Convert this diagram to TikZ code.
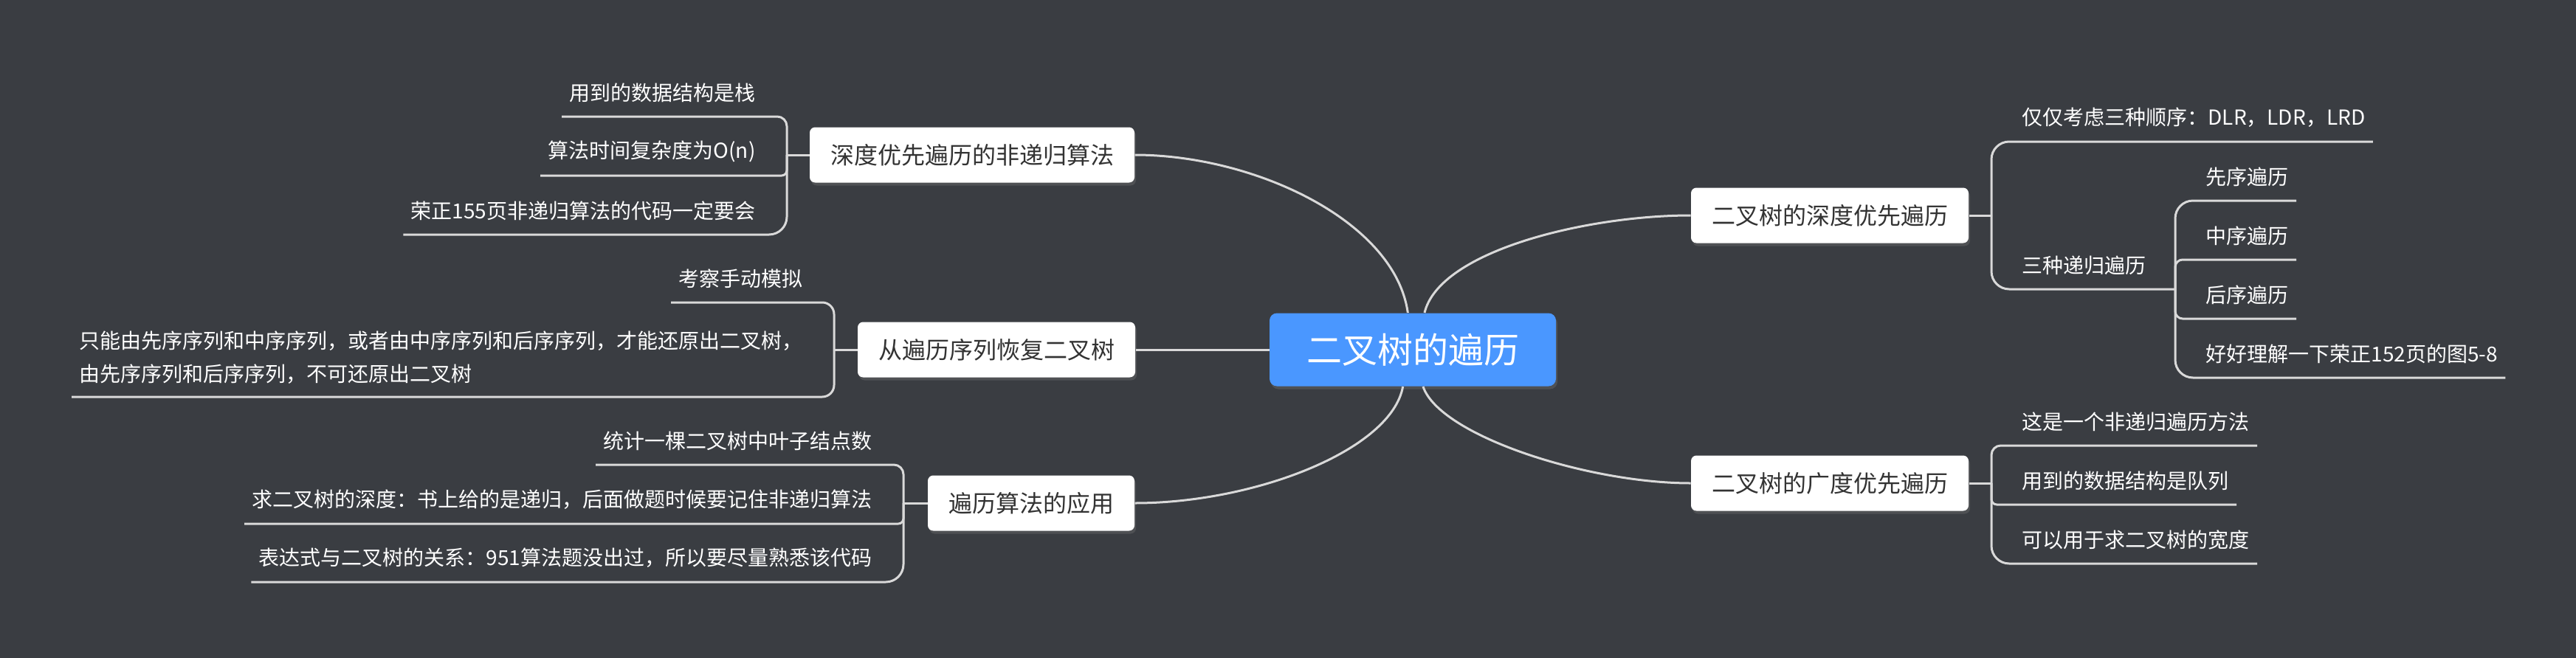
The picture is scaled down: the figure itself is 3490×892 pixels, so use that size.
\documentclass[tikz,border=0pt]{standalone}
\usepackage{fontspec}
\usetikzlibrary{shadows}
\newfontfamily\cjk{Noto Sans CJK SC}
\definecolor{bgdark}{RGB}{58,61,66}
\definecolor{linegray}{RGB}{217,217,217}
\definecolor{rootblue}{RGB}{74,151,255}
\definecolor{boxtext}{RGB}{51,51,51}

\tikzset{every picture/.style={line width=0.75pt}}
\tikzset{
  rootbox/.style={fill=rootblue, rounded corners=7.5pt, text=white, font=\cjk\fontsize{36}{40}\selectfont, minimum height=74.25pt, inner xsep=37.5pt, inner ysep=0pt, drop shadow={shadow xshift=1.5pt, shadow yshift=-3pt, opacity=0.3}},
  topic/.style={fill=white, rounded corners=5.5pt, text=boxtext, font=\cjk\fontsize{24}{28}\selectfont, minimum height=56.25pt, inner xsep=21pt, inner ysep=0pt, drop shadow={shadow xshift=1.5pt, shadow yshift=-3pt, opacity=0.3}},
  leafr/.style={anchor=south west, text=white, font=\cjk\fontsize{21}{33.75}\selectfont, minimum height=48pt, inner xsep=7.5pt, inner ysep=0pt},
  leafl/.style={leafr, anchor=south east},
  branch/.style={draw=linegray, line width=2.25pt, rounded corners=#1},
  branch/.default=18pt,
  curve/.style={draw=linegray, line width=2.25pt},
}

\begin{document}
\begin{tikzpicture}[x=0.75pt,y=0.75pt,yscale=-1,xscale=1]
	%Background
	\fill [bgdark] (0,0) rectangle (3490,892);
	\useasboundingbox (0,0) rectangle (3490,892);

	%Shape: Rounded Rect [root]
	\node [rootbox] (root) at (1914,474) {二叉树的遍历};
	%Shape: Rounded Rect [topics]
	\node [topic] (r1) at (2479,292) {二叉树的深度优先遍历};
	\node [topic] (r2) at (2479,655) {二叉树的广度优先遍历};
	\node [topic] (l1) at (1317,210) {深度优先遍历的非递归算法};
	\node [topic] (l2) at (1350,474) {从遍历序列恢复二叉树};
	\node [topic] (l3) at (1397,682) {遍历算法的应用};

	%Junctions
	\coordinate (j1) at (2698,292);
	\coordinate (j12) at (2947,392);
	\coordinate (j2) at (2698,655);
	\coordinate (k1) at (1066,210);
	\coordinate (k2) at (1130,474);
	\coordinate (k3) at (1224,682);

	% Text Node
	\node [leafr] (r11) at (2729,192) {仅仅考虑三种顺序：DLR，LDR，LRD};
	% Text Node
	\node [leafr] (r12) at (2729,392) {三种递归遍历};
	% Text Node
	\node [leafr] (r121) at (2978,272) {先序遍历};
	\node [leafr] (r122) at (2978,352) {中序遍历};
	\node [leafr] (r123) at (2978,432) {后序遍历};
	\node [leafr] (r124) at (2978,512) {好好理解一下荣正152页的图5-8};
	% Text Node
	\node [leafr] (r21) at (2729,604) {这是一个非递归遍历方法};
	\node [leafr] (r22) at (2729,684) {用到的数据结构是队列};
	\node [leafr] (r23) at (2729,764) {可以用于求二叉树的宽度};
	% Text Node
	\node [leafl] (l11) at (1034,158) {用到的数据结构是栈};
	\node [leafl] (l12) at (1034,238) {算法时间复杂度为O(n)};
	\node [leafl] (l13) at (1034,318) {荣正155页非递归算法的代码一定要会};
	% Text Node
	\node [leafl] (l21) at (1098,410) {考察手动模拟};
	\node [leafl, align=left, minimum height=80pt] (l22) at (1098,538) {只能由先序序列和中序序列，或者由中序序列和后序序列，才能还原出二叉树，\\由先序序列和后序序列，不可还原出二叉树};
	% Text Node
	\node [leafl] (l31) at (1192,630) {统计一棵二叉树中叶子结点数};
	\node [leafl] (l32) at (1192,710) {求二叉树的深度：书上给的是递归，后面做题时候要记住非递归算法};
	\node [leafl] (l33) at (1192,789) {表达式与二叉树的关系：951算法题没出过，所以要尽量熟悉该代码};

	%Curves from the root
	\draw [curve] ([xshift=12pt]root.north) .. controls (1950,340) and (2150,292) .. (r1.west);
	\draw [curve] ([xshift=10.5pt]root.south) .. controls (1950,590) and (2150,655) .. (r2.west);
	\draw [curve] ([xshift=-5pt]root.north) .. controls (1890,300) and (1700,210) .. (l1.east);
	\draw [curve] (root.west) -- (l2.east);
	\draw [curve] ([xshift=-10pt]root.south) .. controls (1885,610) and (1700,682) .. (l3.east);

	%Straight Lines
	\draw [branch] (r1.east) -- (j1);
	\draw [branch] (j1) |- (r11.south east);
	\draw [branch] (j1) |- (j12);
	\draw [branch] (j12) |- (r121.south east);
	\draw [branch=7.5pt] (j12) |- (r122.south east);
	\draw [branch=7.5pt] (j12) |- (r123.south east);
	\draw [branch] (j12) |- (r124.south east);
	%Straight Lines
	\draw [branch] (r2.east) -- (j2);
	\draw [branch=9.5pt] (j2) |- (r21.south east);
	\draw [branch=5.4pt] (j2) |- (r22.south east);
	\draw [branch] (j2) |- (r23.south east);
	%Straight Lines
	\draw [branch] (l1.west) -- (k1);
	\draw [branch=9.75pt] (k1) |- (l11.south west);
	\draw [branch=5.25pt] (k1) |- (l12.south west);
	\draw [branch] (k1) |- (l13.south west);
	%Straight Lines
	\draw [branch] (l2.west) -- (k2);
	\draw [branch=12pt] (k2) |- (l21.south west);
	\draw [branch=12pt] (k2) |- (l22.south west);
	%Straight Lines
	\draw [branch] (l3.west) -- (k3);
	\draw [branch=9.75pt] (k3) |- (l31.south west);
	\draw [branch=5.25pt] (k3) |- (l32.south west);
	\draw [branch] (k3) |- (l33.south west);

\end{tikzpicture}
\end{document}
